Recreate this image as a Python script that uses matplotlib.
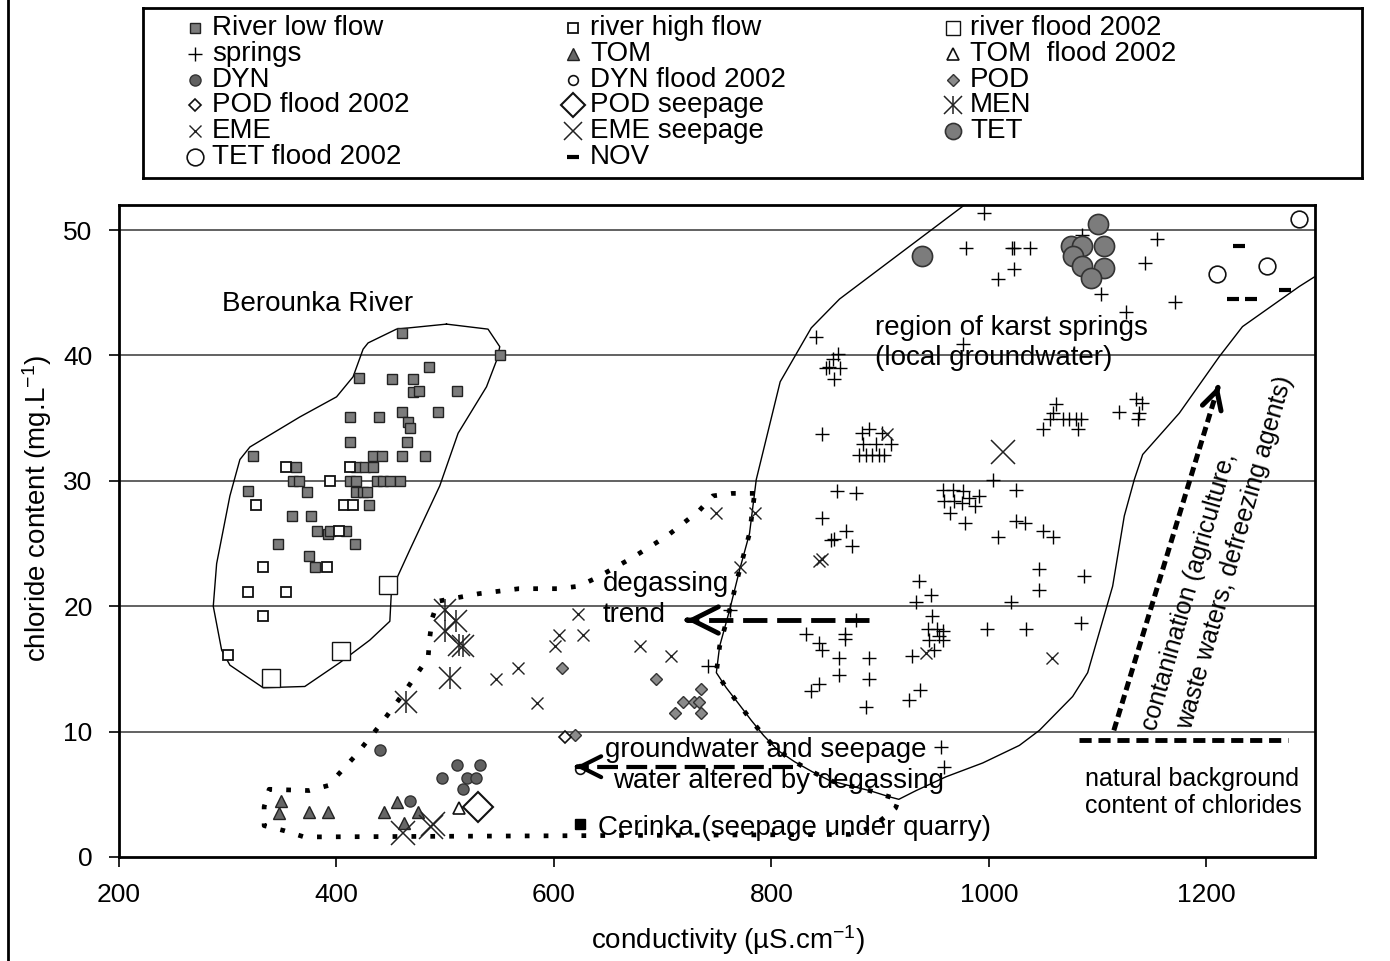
"""
Chloride content vs conductivity -- Berounka river, karst springs and seepage waters.
"""
import matplotlib
matplotlib.use("Agg")
import matplotlib.pyplot as plt
from matplotlib.lines import Line2D

plt.rcParams["font.family"] = ["Liberation Sans", "DejaVu Sans"]
plt.rcParams["mathtext.default"] = "regular"

# ---------------- data (conductivity uS/cm, chloride mg/L) ----------------
river_low_x = [460, 550, 485, 421, 451, 470, 470, 476, 511, 412, 439, 460, 466, 468, 493, 412, 465,
               323, 434, 442, 460, 481, 363, 418, 426, 434, 360, 366, 412, 418, 437, 443, 449, 458,
               373, 418, 424, 428, 319, 430, 359, 377, 382, 392, 394, 409, 346, 417, 375, 380]
river_low_y = [41.8, 40.0, 39.1, 38.2, 38.1, 38.1, 37.1, 37.2, 37.2, 35.1, 35.1, 35.5, 34.7, 34.2, 35.5, 33.1, 33.1,
               32.0, 32.0, 32.0, 32.0, 32.0, 31.1, 31.1, 31.1, 31.1, 30.0, 30.0, 30.0, 30.0, 30.0, 30.0, 30.0, 30.0,
               29.1, 29.1, 29.1, 29.1, 29.2, 28.1, 27.2, 27.2, 26.0, 25.8, 26.0, 26.0, 25.0, 25.0, 24.0, 23.1]
river_high_x = [354, 412, 394, 407, 415, 326, 402, 391, 332, 319, 354, 332, 300]
river_high_y = [31.1, 31.1, 30.0, 28.1, 28.1, 28.1, 26.0, 23.1, 23.1, 21.1, 21.1, 19.2, 16.1]
river_flood_x = [447, 404, 340]
river_flood_y = [21.7, 16.4, 14.3]

springs_x = [996, 979, 1021, 1023, 1038, 1023, 1008, 1086, 1155, 1144, 1103, 1171, 1126, 841, 976,
             850, 857, 861, 863, 858, 853,
             1062, 1059, 1050, 1056, 1068, 1074, 1080, 1085, 1082, 1135, 1141, 1120, 1138, 1137,
             847, 883, 890, 902, 910, 884, 896, 881, 887, 893, 899, 904,
             1004, 1025, 958, 967, 976, 959, 968, 975, 982, 991, 987, 964, 978, 860, 878, 847, 869,
             858, 855, 874, 1025, 1033, 1008, 1050, 1059, 1046, 1046, 1088, 936, 947, 933, 1020, 948,
             944, 952, 958, 945, 954, 958, 950, 929, 998, 1034, 1085, 832, 868, 868, 844, 847, 862,
             890, 862, 890, 836, 844, 887, 927, 937, 878, 742, 762, 956, 959]
springs_y = [51.4, 48.6, 48.6, 48.6, 48.6, 46.9, 46.1, 49.6, 49.3, 47.4, 44.9, 44.3, 43.5, 41.5, 40.9,
             39.0, 39.7, 40.1, 39.0, 38.1, 39.1,
             36.1, 35.4, 34.1, 34.9, 34.9, 34.9, 34.9, 34.9, 34.1, 36.5, 36.2, 35.5, 35.4, 34.9,
             33.7, 33.8, 34.1, 33.8, 32.9, 32.9, 32.9, 32.1, 32.1, 32.1, 32.1, 32.1,
             30.1, 29.3, 29.3, 29.3, 29.2, 28.4, 28.4, 28.2, 28.6, 28.8, 28.0, 27.4, 26.6, 29.2, 29.0, 27.0, 26.0,
             25.4, 25.3, 24.8, 26.8, 26.6, 25.5, 26.0, 25.5, 23.0, 21.3, 22.4, 22.0, 20.9, 20.3, 20.3, 19.2,
             18.2, 18.2, 18.0, 17.3, 17.6, 17.3, 16.5, 16.0, 18.2, 18.2, 18.7, 17.8, 17.8, 17.4, 17.1, 16.5, 15.9,
             15.9, 14.5, 14.2, 13.2, 13.8, 12.0, 12.5, 13.3, 18.9, 15.2, 19.7, 8.8, 7.2]

tom_x = [349, 347, 375, 392, 444, 456, 462, 475]
tom_y = [4.5, 3.5, 3.6, 3.6, 3.6, 4.4, 2.7, 3.6]
tom_flood_x = [513]
tom_flood_y = [3.9]
dyn_x = [440, 468, 497, 511, 532, 520, 528, 516]
dyn_y = [8.5, 4.5, 6.3, 7.3, 7.3, 6.3, 6.3, 5.4]
dyn_flood_x = [624]
dyn_flood_y = [7.0]
pod_x = [607, 694, 735, 719, 729, 733, 711, 735, 619]
pod_y = [15.1, 14.2, 13.4, 12.4, 12.4, 12.4, 11.5, 11.5, 9.7]
pod_flood_x = [610]
pod_flood_y = [9.6]
pod_seep_x = [530]
pod_seep_y = [4.0]
men_x = [500, 510, 500, 513, 516, 504, 464]
men_y = [19.7, 18.8, 18.0, 16.9, 16.8, 14.3, 12.4]
eme_x = [749, 785, 771, 622, 627, 605, 601, 679, 708, 567, 547, 584, 906, 847, 844, 942, 1058]
eme_y = [27.4, 27.4, 23.1, 19.4, 17.7, 17.7, 16.8, 16.8, 16.0, 15.1, 14.2, 12.3, 33.7, 23.8, 23.6, 16.3, 15.9]
eme_seep_x = [1013, 461, 487, 489]
eme_seep_y = [32.3, 1.9, 2.4, 2.6]
tet_x = [939, 1100, 1076, 1086, 1106, 1077, 1086, 1106, 1094]
tet_y = [47.9, 50.5, 48.7, 48.7, 48.7, 47.9, 47.1, 47.0, 46.2]
tet_flood_x = [1285, 1210, 1256]
tet_flood_y = [50.9, 46.5, 47.1]
nov_x = [1230, 1225, 1241, 1272]
nov_y = [48.7, 44.5, 44.5, 45.2]
cerinka_x = [624]
cerinka_y = [2.6]

# outlines
berounka_x = [501.2, 539.4, 550.2, 547.7, 538.0, 511.9, 495.0, 467.5, 450.6, 449.1, 430.7, 403.1, 370.9,
              332.6, 302.0, 294.4, 286.7, 289.8, 302.0, 311.2, 320.4, 366.4, 400.1, 415.3, 424.5, 429.1,
              455.2, 501.2]
berounka_y = [42.5, 42.1, 40.7, 39.7, 37.5, 33.8, 29.6, 24.5, 21.3, 18.8, 17.3, 15.5, 13.6,
              13.5, 15.3, 16.5, 20.0, 23.4, 28.8, 31.7, 32.7, 35.1, 36.7, 38.3, 40.5, 41.0,
              42.1, 42.5]
karst_x = [1010, 977.6, 945.4, 862.7, 836.7, 808.1, 786.1, 779.9, 770.8, 761.6, 752.4, 749.4, 758.5,
           770.1, 781.5, 792.8, 806.0, 821.3, 837.6, 853.5, 871.2, 890.2, 908.6, 917.2, 933.2, 960.7,
           994.4, 1028.1, 1046.5, 1077.1, 1090.9, 1113.9, 1124.6, 1133.8, 1141.5, 1175.2, 1211.9,
           1233.3, 1285.5, 1322]
karst_y = [54, 52.0, 49.9, 44.5, 42.2, 37.9, 30.1, 25.8, 22.9, 19.7, 16.8, 14.7, 13.5,
           12.2, 10.9, 9.7, 8.5, 7.6, 6.8, 6.1, 5.7, 5.3, 4.8, 4.6, 5.3, 6.4,
           7.5, 8.9, 10.1, 12.8, 14.7, 21.6, 27.2, 30.1, 32.1, 35.4, 39.9,
           42.3, 45.5, 47.5]
degas_x = [784.6, 764.1, 746.2, 733.4, 704.0, 672.7, 640.0, 622.8, 604.7, 567.9, 530.9, 493.5, 488.3,
           485.8, 484.3, 462.9, 440.8, 417.6, 392.4, 374.9, 338.1, 333.5, 333.5, 351.9, 370.3, 871.9,
           893.3, 914.2, 917.2]
degas_y = [29.0, 29.0, 28.8, 27.6, 25.6, 23.9, 22.3, 21.6, 21.4, 21.4, 21.0, 20.4, 19.1,
           17.5, 15.9, 13.2, 10.6, 8.1, 5.7, 5.3, 5.4, 4.0, 2.5, 2.1, 1.6, 1.8,
           2.4, 3.9, 4.6]

# ---------------- styles ----------------
GREY = "#7c7c7c"
styles = {
    "River low flow":   dict(marker="s", ms=7.5, mfc=GREY, mec="#222222", mew=1.0),
    "river high flow":  dict(marker="s", ms=7.5, mfc="white", mec="#111111", mew=1.3),
    "river flood 2002": dict(marker="s", ms=13, mfc="white", mec="#111111", mew=1.0),
    "springs":          dict(marker="+", ms=10, mec="black", mew=1.0),
    "TOM":              dict(marker="^", ms=9, mfc="#666666", mec="#222222", mew=1.0),
    "TOM  flood 2002":  dict(marker="^", ms=9, mfc="white", mec="#111111", mew=1.2),
    "DYN":              dict(marker="o", ms=8, mfc="#606060", mec="#333333", mew=1.0),
    "DYN flood 2002":   dict(marker="o", ms=7, mfc="white", mec="#111111", mew=1.2),
    "POD":              dict(marker="D", ms=6.5, mfc="#8a8a8a", mec="#333333", mew=1.0),
    "POD flood 2002":   dict(marker="D", ms=6, mfc="white", mec="#111111", mew=1.2),
    "POD seepage":      dict(marker="D", ms=15, mfc="none", mec="#111111", mew=1.5),
    "MEN":              dict(marker="x", ms=16, mec="#222222", mew=1.1),
    "EME":              dict(marker="x", ms=9, mec="#222222", mew=1.0),
    "EME seepage":      dict(marker="x", ms=17, mec="#222222", mew=1.1),
    "TET":              dict(marker="o", ms=14.5, mfc=GREY, mec="#333333", mew=1.2),
    "TET flood 2002":   dict(marker="o", ms=12, mfc="white", mec="#111111", mew=1.2),
    "NOV":              dict(marker="_", ms=9, mec="black", mew=3.0),
}
series = [
    ("River low flow", river_low_x, river_low_y),
    ("river high flow", river_high_x, river_high_y),
    ("river flood 2002", river_flood_x, river_flood_y),
    ("springs", springs_x, springs_y),
    ("TOM", tom_x, tom_y),
    ("TOM  flood 2002", tom_flood_x, tom_flood_y),
    ("DYN", dyn_x, dyn_y),
    ("DYN flood 2002", dyn_flood_x, dyn_flood_y),
    ("POD", pod_x, pod_y),
    ("POD flood 2002", pod_flood_x, pod_flood_y),
    ("POD seepage", pod_seep_x, pod_seep_y),
    ("MEN", men_x, men_y),
    ("EME", eme_x, eme_y),
    ("EME seepage", eme_seep_x, eme_seep_y),
    ("TET", tet_x, tet_y),
    ("TET flood 2002", tet_flood_x, tet_flood_y),
    ("NOV", nov_x, nov_y),
]

W, H = 1390, 961
fig = plt.figure(figsize=(W / 100, H / 100), dpi=100)
ax = fig.add_axes([119 / W, 104 / H, 1196 / W, 652 / H])
ax.set_xlim(200, 1300)
ax.set_ylim(0, 52)
ax.set_xticks([200, 400, 600, 800, 1000, 1200])
ax.set_yticks([0, 10, 20, 30, 40, 50])
ax.tick_params(direction="out", length=7, width=1.2, labelsize=19)
ax.tick_params(axis="x", pad=12)
ax.tick_params(axis="y", pad=12)
for s in ax.spines.values():
    s.set_linewidth(2)
for yv in [10, 20, 30, 40, 50]:
    ax.axhline(yv, color="#555555", lw=1.3, zorder=0)

# region outlines
ax.plot(degas_x + karst_x[7:23][::-1] + [degas_x[0]],
        degas_y + karst_y[7:23][::-1] + [degas_y[0]],
        color="black", lw=3.4, ls=(0, (1, 3.0)), zorder=1)
ax.plot(berounka_x, berounka_y, color="black", lw=1.0, zorder=1)
ax.plot(karst_x, karst_y, color="black", lw=1.0, zorder=1)

# data points
for name, xs, ys in series:
    ax.plot(xs, ys, ls="none", zorder=3, **styles[name])
    if name == "MEN":
        ax.plot(xs, ys, ls="none", marker="|", ms=16, mec="#222222", mew=1.1, zorder=3)
ax.plot(cerinka_x, cerinka_y, ls="none", marker="s", ms=7, color="black", zorder=3)

# arrows
def dashed_arrow(tail, tip, lw, dashes, head=(1.2, 0.6)):
    ax.plot([tail[0], tip[0]], [tail[1], tip[1]], color="black", lw=lw,
            ls=(0, dashes), zorder=4)
    dx, dy = tip[0] - tail[0], tip[1] - tail[1]
    ax.annotate("", xy=tip, xytext=(tip[0] - dx * 0.02, tip[1] - dy * 0.02),
                arrowprops=dict(arrowstyle=f"->,head_length={head[0]},head_width={head[1]}",
                                lw=lw, color="black"), zorder=4)

dashed_arrow((890, 18.9), (722, 18.9), 3.5, (5, 2), head=(1.9, 0.95))
dashed_arrow((820, 7.2), (620, 7.2), 3.0, (5, 2), head=(1.5, 0.75))
dashed_arrow((1115, 10.1), (1212, 37.8), 3.6, (1.8, 1.0), head=(1.3, 0.7))
ax.plot([1083, 1275], [9.3, 9.3], color="black", lw=3.5, ls=(0, (2.5, 1.4)), zorder=4)

# annotations
tkw = dict(fontsize=20, ha="left", va="center", zorder=5)
ax.text(294.7, 44.1, "Berounka River", **tkw)
ax.text(894.9, 42.2, "region of karst springs", **tkw)
ax.text(894.9, 39.8, "(local groundwater)", **tkw)
ax.text(644.9, 21.8, "degassing", **tkw)
ax.text(644.9, 19.3, "trend", **tkw)
ax.text(646.7, 8.5, "groundwater and seepage", **tkw)
ax.text(654.0, 6.1, "water altered by degassing", **tkw)
ax.text(640.3, 2.3, "Cerinka (seepage under quarry)", **tkw)
ax.text(1088.8, 6.2, "natural background", fontsize=18, ha="left", va="center")
ax.text(1088.8, 4.1, "content of chlorides", fontsize=18, ha="left", va="center")
ax.text(1153.8, 10.0, "contanination (agriculture,", fontsize=18, rotation=74,
        rotation_mode="anchor", ha="left", va="baseline")
ax.text(1185.9, 10.1, "waste waters, defreezing agents)", fontsize=18, rotation=74,
        rotation_mode="anchor", ha="left", va="baseline")

fig.text(728 / W, 1 - 940 / H, "conductivity (\u00b5S.cm$^{-1}$)", fontsize=20,
         ha="center", va="center")
fig.text(37 / W, 1 - 508 / H, "chloride content (mg.L$^{-1}$)", fontsize=20,
         ha="center", va="center", rotation=90)

# legend box (row-major, three columns)
lax = fig.add_axes([143 / W, 783 / H, 1219 / W, 170 / H])
lax.set_xlim(0, 1)
lax.set_ylim(0, 1)
lax.set_xticks([])
lax.set_yticks([])
for s in lax.spines.values():
    s.set_linewidth(2)
mark_x = [0.0427, 0.3527, 0.6645]
text_x = [0.0566, 0.3667, 0.6784]
row_y = [0.882, 0.729, 0.576, 0.429, 0.276, 0.124]
for i, (name, _, _) in enumerate(series):
    r, c = divmod(i, 3)
    st = dict(styles[name])
    if st["ms"] > 12:
        st["ms"] = st["ms"] * 0.8
    lax.plot([mark_x[c]], [row_y[r]], ls="none", clip_on=False, **st)
    if name == "MEN":
        lax.plot([mark_x[c]], [row_y[r]], ls="none", marker="|", ms=st["ms"],
                 mec="#222222", mew=1.1)
    lax.text(text_x[c], row_y[r], name, fontsize=20, ha="left", va="center")

# outer frame line on the left
fig.add_artist(Line2D([8 / W, 8 / W], [0, 1], color="black", lw=2))

fig.savefig("out.png", dpi=100)
